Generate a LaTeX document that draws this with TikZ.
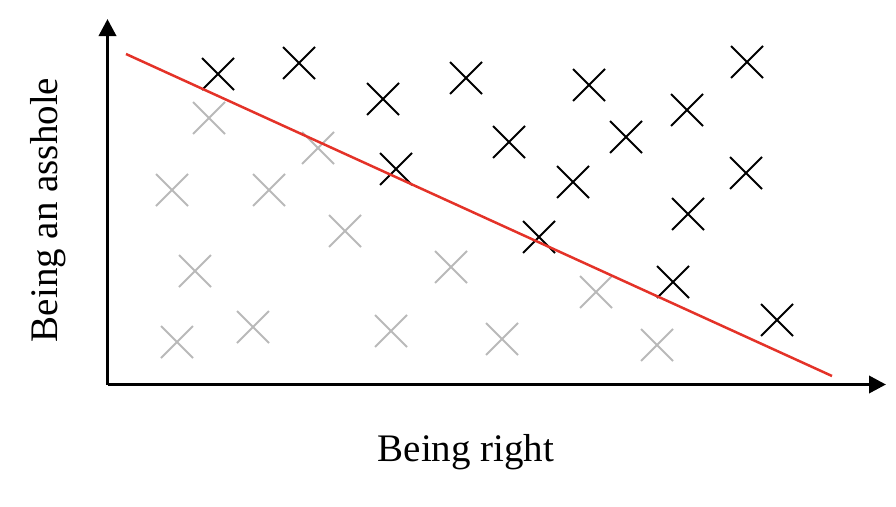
\documentclass[tikz,border=0pt]{standalone}
\usepackage{fontspec}
\setmainfont{Liberation Serif}
\usetikzlibrary{arrows.meta,shapes.misc}
\definecolor{fitred}{RGB}{228,50,40}
\definecolor{lightx}{RGB}{185,185,185}
\tikzset{
  xmark/.style={cross out,draw=black,line width=2pt,minimum size=30pt,inner sep=0pt},
  gmark/.style={cross out,draw=lightx,line width=2pt,minimum size=30pt,inner sep=0pt},
  axisline/.style={line width=3.5pt,-{Triangle[length=17pt,width=17pt]}},
  fitline/.style={draw=fitred,line width=2.5pt},
  lbl/.style={font=\fontsize{39}{44}\selectfont,inner sep=0pt}
}
\begin{document}
\begin{tikzpicture}[x=1pt,y=-1pt]
\useasboundingbox (0,0) rectangle (896,506);
% axes
\coordinate (O) at (107.5,384.5);
\coordinate (Ytop) at (107.5,19);
\coordinate (Xend) at (886,384.5);
\draw[axisline] (O) -- (Ytop);
\draw[axisline] (O) -- (Xend);
% grey crosses
\node[gmark] (g1) at (209,118) {};
\node[gmark] (g2) at (318,148) {};
\node[gmark] (g3) at (172,190) {};
\node[gmark] (g4) at (269,190) {};
\node[gmark] (g5) at (345,231) {};
\node[gmark] (g6) at (195,271) {};
\node[gmark] (g7) at (451,267) {};
\node[gmark] (g8) at (253,327) {};
\node[gmark] (g9) at (177,342) {};
\node[gmark] (g10) at (391,331) {};
\node[gmark] (g11) at (596,292) {};
\node[gmark] (g12) at (502,339) {};
\node[gmark] (g13) at (657,345) {};
% black crosses
\node[xmark] (b1) at (218,74) {};
\node[xmark] (b2) at (299,63) {};
\node[xmark] (b3) at (383,99) {};
\node[xmark] (b4) at (466,78) {};
\node[xmark] (b5) at (396,169) {};
\node[xmark] (b6) at (589,85) {};
\node[xmark] (b7) at (747,62) {};
\node[xmark] (b8) at (687,110) {};
\node[xmark] (b9) at (509,142) {};
\node[xmark] (b10) at (626,137) {};
\node[xmark] (b11) at (573,182) {};
\node[xmark] (b12) at (746,173) {};
\node[xmark] (b13) at (688,214) {};
\node[xmark] (b14) at (539,237) {};
\node[xmark] (b15) at (673,282) {};
\node[xmark] (b16) at (777,320) {};
% fitted line
\coordinate (L1) at (126,54);
\coordinate (L2) at (832,376);
\draw[fitline] (L1) -- (L2);
% labels
\node[lbl] (xl) at (466,452) {Being right};
\node[lbl,rotate=90] (yl) at (48,210) {Being an asshole};
\end{tikzpicture}
\end{document}
